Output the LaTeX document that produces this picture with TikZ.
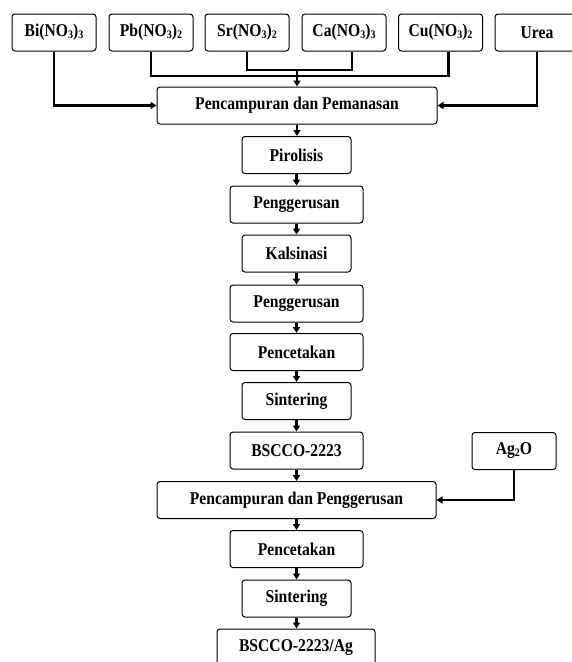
\documentclass[tikz,border=0pt]{standalone}
\usepackage{fontspec}
\setmainfont{Liberation Serif}[FakeStretch=0.87]
\usetikzlibrary{arrows.meta,calc}
\newcommand{\sbs}[1]{\raisebox{-1.5pt}{\fontsize{11.5}{11.5}\selectfont #1}}
\tikzset{
  box/.style={draw=black, line width=1pt, rounded corners=3pt, minimum height=37pt,
    inner sep=0pt, font=\fontsize{18}{20}\selectfont\bfseries},
  wA/.style={box, minimum width=84pt},
  wB/.style={box, minimum width=109pt},
  wC/.style={box, minimum width=133pt},
  conn/.style={line width=2.3pt, draw=black},
  arr/.style={conn, -{Triangle[length=6pt,width=7pt]}}
}
\begin{document}
\begin{tikzpicture}[x=1pt,y=-1pt]
\useasboundingbox (0,0) rectangle (572,662);
% top inputs
\node[wA] (bi)   at (54,32.5)  {Bi(NO\sbs{3})\sbs{3}};
\node[wA] (pb)   at (151,32.5) {Pb(NO\sbs{3})\sbs{2}};
\node[wA] (sr)   at (247,32.5) {Sr(NO\sbs{3})\sbs{2}};
\node[wA] (ca)   at (344,32.5) {Ca(NO\sbs{3})\sbs{3}};
\node[wA] (cu)   at (440.5,32.5) {Cu(NO\sbs{3})\sbs{2}};
\node[wA] (urea) at (537,32.5) {Urea};
% main column
\node[box, minimum width=280pt] (mix) at (297,105.5) {Pencampuran dan Pemanasan};
\node[wB] (piro)  at (296.5,155)   {Pirolisis};
\node[wC] (peng1) at (296.5,204.5) {Penggerusan};
\node[wB] (kals)  at (296.5,253.5) {Kalsinasi};
\node[wC] (peng2) at (296.5,303.5) {Penggerusan};
\node[wC] (cet1)  at (296.5,352)   {Pencetakan};
\node[wB] (sin1)  at (296.5,401)   {Sintering};
\node[wC] (bs)    at (296.5,450.5) {BSCCO-2223};
\node[wA] (ag)    at (514,451)     {Ag\sbs{2}O};
\node[box, minimum width=279pt] (mix2) at (296.5,500) {Pencampuran dan Penggerusan};
\node[wC] (cet2)  at (296.5,549)   {Pencetakan};
\node[wB] (sin2)  at (296.5,598.5) {Sintering};
\node[box, minimum width=158pt] (fin) at (296,647.5) {BSCCO-2223/Ag};
% coordinates for the collecting lines
\coordinate (srca) at (0,70);
\coordinate (pbcu) at (0,76);
\coordinate (caX) at ($(ca.south)+(8,0)$);
\coordinate (cuX) at ($(cu.south)+(8,0)$);
% input connectors
\draw[arr] (bi.south) |- (mix.west);
\draw[arr] (urea.south) |- (mix.east);
\draw[conn] (pb.south) |- (pb.south |- pbcu) -| (cuX);
\draw[conn] (sr.south) |- (sr.south |- srca) -| (caX);
\draw[arr] (mix.north |- srca) -- (mix.north);
% main flow
\draw[arr] (mix.south) -- (mix.south |- piro.north);
\draw[arr] (piro) -- (peng1);
\draw[arr] (peng1) -- (kals);
\draw[arr] (kals) -- (peng2);
\draw[arr] (peng2) -- (cet1);
\draw[arr] (cet1) -- (sin1);
\draw[arr] (sin1) -- (bs);
\draw[arr] (bs) -- (bs |- mix2.north);
\draw[arr] (ag.south) |- (mix2.east);
\draw[arr] (mix2.south -| cet2) -- (cet2);
\draw[arr] (cet2) -- (sin2);
\draw[arr] (sin2) -- (sin2 |- fin.north);
\end{tikzpicture}
\end{document}
